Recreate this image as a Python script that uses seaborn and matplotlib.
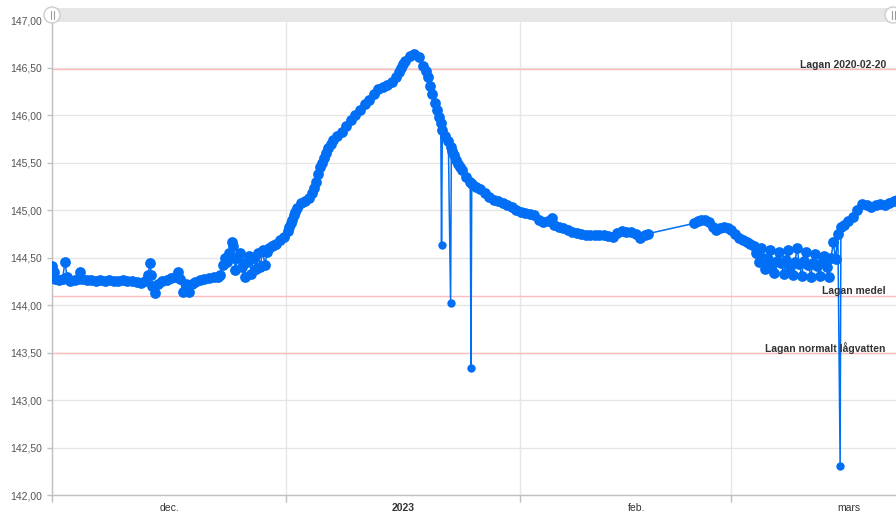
import numpy as np
import pandas as pd
import seaborn as sns
import matplotlib.pyplot as plt
from matplotlib.patches import Rectangle, Circle

# Water level (m), day offsets counted from 2022-12-01
days = [0.0, 0.2, 0.4, 0.9, 1.4, 1.7, 2.0, 2.4, 3.0, 3.5, 3.7, 4.0, 4.6, 5.2, 5.8,
        6.4, 7.0, 7.6, 8.2, 8.8, 9.4, 10.0, 10.6, 11.2, 11.8, 12.3, 12.7, 13.0, 13.15,
        13.3, 13.6, 14.0, 14.6, 15.2, 15.8, 16.3, 16.7, 17.0, 17.3, 17.7, 18.1, 18.5,
        19.0, 19.6, 20.2, 20.8, 21.4, 22.0,
        22.3, 22.6, 22.9, 23.2, 23.5, 23.8, 24.0, 24.15, 24.3, 24.6, 24.9, 25.2, 25.5,
        25.8, 26.1, 26.4, 26.7, 27.0, 27.3, 27.6, 27.9, 28.2, 28.5, 28.8, 29.2, 29.45,
        29.7, 30.2, 30.7, 31.2, 31.4, 31.6, 31.8, 32.0, 32.25,
        32.5, 33.0, 33.5, 34.0, 34.5, 34.75, 35.0, 35.25, 35.5, 35.75, 36.0, 36.3, 36.6,
        36.9, 37.2, 37.8, 38.4, 39.0, 39.6, 40.2, 40.8, 41.4, 42.0, 42.6, 43.2, 43.8,
        44.4, 45.0, 45.6, 45.9, 46.2, 46.5, 46.8, 47.4, 48.0, 48.6, 49.2, 49.5, 49.8,
        50.1, 50.4, 50.7, 51.0, 51.25, 51.5, 51.7, 52.1, 52.5, 52.9, 53.05,
        53.3, 53.55, 53.8, 54.05, 54.3, 54.9, 55.4, 55.6, 56.1, 56.7, 57.3, 57.9,
        58.5, 59.1, 59.7, 60.3, 60.9, 61.5, 62.1, 62.7, 63.3, 63.9, 64.5, 65.1, 65.7,
        66.2, 66.5, 67.1, 67.7, 68.3, 68.9, 69.5, 70.1, 70.7, 71.3, 71.9, 72.5, 73.1,
        73.7, 74.3, 74.9, 75.5, 76.1, 76.7, 77.3, 77.9, 78.5, 78.9,
        85.1, 85.6, 86.0, 86.5, 87.0, 87.5, 88.0, 88.5, 89.0, 89.5, 90.0, 90.5, 91.0,
        91.5, 92.0, 92.5, 93.0,
        93.3, 93.6, 93.9, 94.2, 94.5, 94.8, 95.1, 95.4, 95.7, 96.0, 96.3, 96.6, 96.9,
        97.2, 97.5, 97.8, 98.1, 98.4, 98.7, 99.0, 99.3, 99.6, 99.9, 100.2, 100.5,
        100.8, 101.1, 101.4, 101.7, 102.0, 102.3, 102.6, 102.9, 103.2, 103.5, 103.8,
        104.1, 104.5, 104.9, 105.5, 106.1, 106.7, 107.3, 107.9, 108.5, 109.1,
        109.7, 110.3, 110.9, 111.5, 111.9]
level = [144.41, 144.35, 144.27, 144.26, 144.27, 144.45, 144.30, 144.25, 144.26, 144.27,
         144.35, 144.27, 144.26, 144.26, 144.25, 144.26, 144.25, 144.26, 144.25, 144.25,
         144.26, 144.25, 144.25, 144.24, 144.23, 144.25, 144.32, 144.44, 144.32, 144.20,
         144.13, 144.22, 144.25, 144.26, 144.28, 144.30, 144.35, 144.27, 144.14, 144.22,
         144.14, 144.22, 144.24, 144.26, 144.27, 144.28, 144.29, 144.30,
         144.32, 144.42, 144.50, 144.45, 144.55, 144.66, 144.62, 144.50, 144.37, 144.50,
         144.55, 144.40, 144.30, 144.45, 144.52, 144.33, 144.50, 144.38, 144.55, 144.40,
         144.58, 144.42, 144.56, 144.60, 144.62, 144.63, 144.64, 144.68, 144.72, 144.78,
         144.82, 144.86, 144.90, 144.95, 144.98,
         145.02, 145.07, 145.10, 145.13, 145.18, 145.23, 145.30, 145.38, 145.45, 145.50,
         145.55, 145.60, 145.65, 145.70, 145.74, 145.78, 145.82, 145.88, 145.95, 146.00,
         146.05, 146.12, 146.16, 146.22, 146.27, 146.30, 146.32, 146.35, 146.40, 146.45,
         146.50, 146.54, 146.57, 146.62, 146.64, 146.61, 146.52, 146.46, 146.40, 146.31,
         146.22, 146.13, 146.05, 145.98, 145.92, 145.84, 145.78, 145.73,
         145.66, 145.62, 145.58, 145.53, 145.48, 145.45, 145.42, 145.35, 145.29,
         145.27, 145.24, 145.22, 145.18, 145.14, 145.11, 145.09, 145.07, 145.05, 145.03,
         145.00, 144.98, 144.97, 144.96, 144.95, 144.90, 144.87, 144.88, 144.92, 144.84,
         144.82, 144.81, 144.79, 144.77, 144.76, 144.75, 144.74, 144.74, 144.74, 144.74,
         144.74, 144.73, 144.72, 144.76, 144.78, 144.77, 144.77, 144.75, 144.71, 144.74,
         144.75,
         144.86, 144.88, 144.90, 144.89, 144.87, 144.82, 144.79, 144.81, 144.82, 144.81,
         144.79, 144.75, 144.71, 144.68, 144.66, 144.64, 144.62,
         144.55, 144.45, 144.60, 144.50, 144.38, 144.48, 144.58, 144.42, 144.34, 144.46,
         144.56, 144.44, 144.33, 144.47, 144.58, 144.40, 144.32, 144.45, 144.60, 144.43,
         144.31, 144.46, 144.56, 144.42, 144.30, 144.44, 144.54, 144.41, 144.31, 144.45,
         144.52, 144.40, 144.30, 144.50, 144.66, 144.48, 144.75, 144.82, 144.84,
         144.88, 144.93, 145.00, 145.06, 145.05, 145.03, 145.05, 145.06, 145.05, 145.07,
         145.10, 145.11]

# single faulty readings (drawn with smaller dots)
spike_days = [51.6, 52.8, 55.5, 104.4]
spike_level = [144.63, 144.02, 143.34, 142.31]

ref_levels = [146.48, 144.10, 143.49]
ref_labels = ["Lagan 2020-02-20", "Lagan medel", "Lagan normalt lågvatten"]

month_starts = ["2022-12-01", "2023-01-01", "2023-02-01", "2023-03-01"]
month_label_dates = ["2022-12-16 12:00", "2023-01-16 12:00", "2023-02-16 12:00", "2023-03-16 12:00"]
month_labels = ["dec.", "2023", "feb.", "mars"]

BLUE = "#006ef5"
start = pd.Timestamp("2022-12-01")
main = pd.DataFrame({"tid": start + pd.to_timedelta(days, unit="D"), "niva": level})
spikes = pd.DataFrame({"tid": start + pd.to_timedelta(spike_days, unit="D"), "niva": spike_level})
alla = pd.concat([main, spikes]).sort_values("tid")

sns.set_theme(style="white")
plt.rcParams['font.family'] = ['Liberation Sans', 'DejaVu Sans']

fig = plt.figure(figsize=(8.96, 5.12), dpi=100)
ax = fig.add_axes([52/896, 17/512, 844/896, 475/512])

sns.lineplot(data=alla, x="tid", y="niva", ax=ax, color=BLUE, linewidth=1.1,
             estimator=None, sort=False, zorder=3)
sns.scatterplot(data=main, x="tid", y="niva", ax=ax, color=BLUE, s=60,
                linewidth=0, zorder=3)
sns.scatterplot(data=spikes, x="tid", y="niva", ax=ax, color=BLUE, s=36,
                linewidth=0, zorder=3)

for v, lab in zip(ref_levels, ref_labels):
    ax.axhline(v, color="#ffbcbc", lw=1, zorder=1.5)
    ax.text(0.988, v - 0.005, lab, transform=ax.get_yaxis_transform(),
            ha="right", va="bottom", fontsize=7.5, fontweight="bold",
            color="#333333", zorder=4)

ax.set_xlim(start, start + pd.Timedelta(days=111.8))
ax.set_ylim(142, 147)
yt = np.arange(142, 147.01, 0.5)
ax.set_yticks(yt, labels=[f"{t:.2f}".replace(".", ",") for t in yt])
ax.set_xticks(pd.to_datetime(month_starts), labels=[""] * len(month_starts))
ax.set_xticks(pd.to_datetime(month_label_dates), labels=month_labels, minor=True)
for t in ax.get_xticklabels(minor=True):
    if t.get_text() == "2023":
        t.set_fontweight("bold")

ax.grid(True, which="major", color="#e6e6e6", lw=1)
ax.set_axisbelow(True)
ax.set_xlabel("")
ax.set_ylabel("")
ax.tick_params(axis="y", left=True, length=3.6, width=1, color="#c0c0c0",
               pad=3.6, labelsize=7.5, labelcolor="#555555")
ax.tick_params(axis="x", which="major", bottom=True, length=5, width=1, color="#c0c0c0")
ax.tick_params(axis="x", which="minor", bottom=True, length=0, pad=6,
               labelsize=7.5, labelcolor="#333333")
for s in ["top", "right"]:
    ax.spines[s].set_visible(False)
for s in ["left", "bottom"]:
    ax.spines[s].set_color("#c0c0c0")
    ax.spines[s].set_linewidth(1)

# navigator scrollbar on top
ov = fig.add_axes([0, 0, 1, 1])
ov.set_xlim(0, 896)
ov.set_ylim(512, 0)
ov.axis("off")
ov.add_patch(Rectangle((52, 8), 844, 14, facecolor="#e6e6e6", edgecolor="none"))
for hx in [52, 893]:
    ov.add_patch(Circle((hx, 15), 8, facecolor="white", edgecolor="#cccccc", lw=1))
    ov.plot([hx - 1.5, hx - 1.5], [11, 19], color="#999999", lw=0.8)
    ov.plot([hx + 1.5, hx + 1.5], [11, 19], color="#999999", lw=0.8)

fig.savefig("out.png", dpi=100)
